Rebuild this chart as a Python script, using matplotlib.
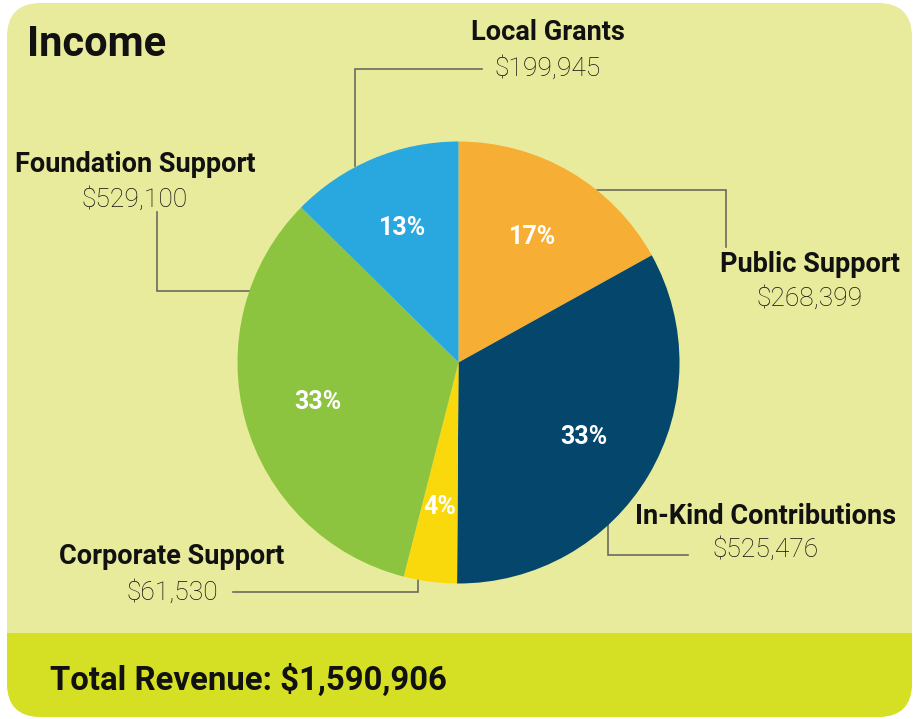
import matplotlib
matplotlib.use("Agg")
import matplotlib.pyplot as plt
from matplotlib.patches import FancyBboxPatch, Rectangle

# slices, clockwise from 12 o'clock
labels = ["Public Support", "In-Kind Contributions", "Corporate Support",
          "Foundation Support", "Local Grants"]
amounts = [268399, 525476, 61530, 529100, 199945]
colors = ["#f6ae35", "#05466d", "#f9d90b", "#8cc43f", "#29a8df"]
total_text = "Total Revenue: $1,590,906"

W, H = 916, 719
BG = "#e8eb9b"
BAND = "#d5df23"
LINE = "#6b6b5e"

plt.rcParams["font.family"] = ["Roboto", "DejaVu Sans"]

fig = plt.figure(figsize=(W / 100, H / 100), dpi=100)
fig.patch.set_facecolor("white")
ax = fig.add_axes([0, 0, 1, 1])


def Y(y):
    # image pixel row -> data y (y up)
    return H - y


# card background with rounded corners
card = FancyBboxPatch((7, Y(717)), 905, 714,
                      boxstyle="round,pad=0,rounding_size=34",
                      fc=BG, ec="none", zorder=0)
ax.add_patch(card)
band = Rectangle((0, Y(719)), W, 86, fc=BAND, ec="none", zorder=1)
ax.add_patch(band)
band.set_clip_path(card)

wedges, _, autotexts = ax.pie(
    amounts, colors=colors, startangle=90, counterclock=False,
    center=(458.5, Y(362.5)), radius=221, autopct="%.0f%%",
    pctdistance=0.66, wedgeprops=dict(linewidth=0),
    textprops=dict(color="white", fontsize=18, fontweight="bold"))
for w in wedges:
    w.set_zorder(2)
for t in autotexts:
    t.set_zorder(3)

ax.set_xlim(0, W)
ax.set_ylim(0, H)
ax.set_aspect("equal")
ax.axis("off")

# label positions (centre x, name y, amount y) in image pixels
label_pos = {
    "Local Grants": (548, 33, 68),
    "Public Support": (810, 265, 298),
    "In-Kind Contributions": (766, 517, 549),
    "Corporate Support": (172, 557, 592),
    "Foundation Support": (135, 165, 199),
}
for name, amt in zip(labels, amounts):
    x, y1, y2 = label_pos[name]
    ax.text(x, Y(y1), name, ha="center", va="center", fontsize=19.5,
            fontweight="bold", color="#111111", zorder=4)
    ax.text(x, Y(y2), f"${amt:,}", ha="center", va="center", fontsize=19,
            fontweight="light", color="#111111", zorder=4)

# leader lines
leaders = [
    [(355, 166), (355, 69), (482, 69)],
    [(597, 190), (726, 190), (726, 247)],
    [(608, 524), (608, 555), (688, 555)],
    [(418, 580), (418, 592), (233, 592)],
    [(250, 291), (157, 291), (157, 212)],
]
for pts in leaders:
    ax.plot([p[0] for p in pts], [Y(p[1]) for p in pts], color=LINE,
            lw=1.2, zorder=1.5, solid_joinstyle="miter")

ax.text(27, Y(44), "Income", ha="left", va="center", fontsize=30,
        fontweight="bold", color="#111111", zorder=4)
ax.text(50, Y(681), total_text, ha="left", va="center", fontsize=23.7,
        fontweight="bold", color="#111111", zorder=4)

fig.savefig("out.png", dpi=100, facecolor=fig.get_facecolor())
